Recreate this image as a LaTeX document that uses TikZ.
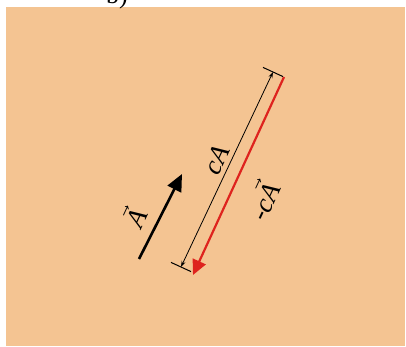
\documentclass[tikz,border=0pt]{standalone}
\usepackage{fontspec}
\setmainfont{Liberation Serif}
\usetikzlibrary{arrows.meta}
\definecolor{peach}{RGB}{244,196,146}
\definecolor{vred}{RGB}{222,35,30}
\begin{document}
\begin{tikzpicture}[x=1pt,y=-1pt,
  lbl/.style={font=\fontsize{27}{30}\selectfont, rotate=65, inner sep=0pt},
  vecblack/.style={line width=2.6pt, -{Triangle[length=17pt,width=15pt]}},
  vecred/.style={draw=vred, line width=2.2pt, -{Triangle[length=15pt,width=14pt]}},
  dimline/.style={line width=0.8pt, {Stealth[length=6pt,width=4pt]}-{Stealth[length=6pt,width=4pt]}},
  tickline/.style={line width=1pt}]
\useasboundingbox (0,0) rectangle (406,347);
\fill[white] (0,0) rectangle (406,347);
\fill[peach] (6,7) rectangle (405,346);
\node[font=\fontsize{26}{30}\selectfont, anchor=base, inner sep=0pt] (lb) at (117,4) {b)};
% coordinates
\coordinate (a0) at (139,259);
\coordinate (a1) at (182,174);
\coordinate (r0) at (284,77);
\coordinate (r1) at (193,275);
\coordinate (d0) at (273,72);
\coordinate (d1) at (181,267);
\coordinate (t0a) at (263,67.4);
\coordinate (t0b) at (283,76.6);
\coordinate (t1a) at (171,262.4);
\coordinate (t1b) at (191,271.6);
% vectors
\draw[vecblack] (a0) -- (a1);
\draw[vecred] (r0) -- (r1);
\draw[dimline] (d0) -- (d1);
\draw[tickline] (t0a) -- (t0b);
\draw[tickline] (t1a) -- (t1b);
% labels
\node[lbl] (lA) at (134,217) {$\vec{\mathit{A}}$};
\node[lbl] (lcA) at (217,160) {\textit{cA}};
\node[lbl] (lncA) at (262,200) {\textit{-c}$\vec{\mathit{A}}$};
\end{tikzpicture}
\end{document}
